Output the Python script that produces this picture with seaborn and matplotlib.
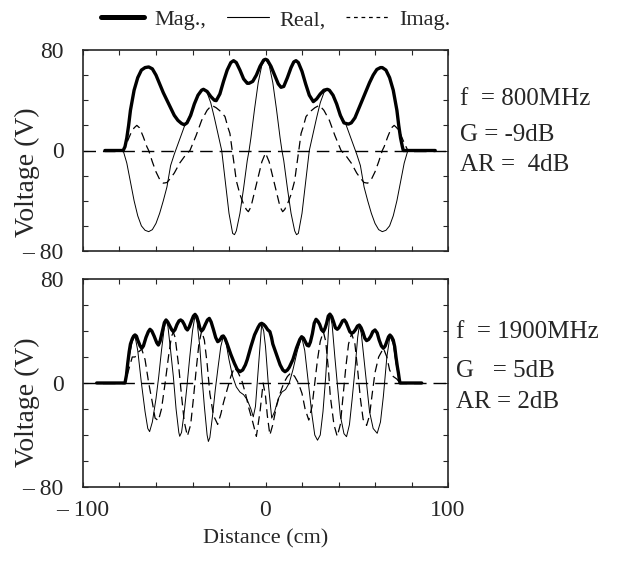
import numpy as np
import pandas as pd
import matplotlib
matplotlib.use("Agg")
import matplotlib.pyplot as plt
from matplotlib.lines import Line2D
import seaborn as sns

# ---------------- 800 MHz panel ----------------
top_mag_x = [-88, -78, -77, -76, -75, -74, -72, -70, -68, -66, -64, -62, -60, -58, -56, -54,
             -52, -50, -48, -46, -44.5, -43, -41, -39, -37, -35, -34, -32, -30, -28, -27, -25,
             -23, -21, -19, -17.5, -16, -14, -12, -10, -9, -7, -5, -3, -1, 0,
             1, 3, 5, 7, 8.5, 10, 12, 14, 15.5, 16.7, 18, 20, 22, 24, 26.2, 28, 30, 32, 33.9,
             35, 37, 39, 41, 43, 45.4, 47, 49, 51, 53, 55, 57, 59, 61, 63, 64, 66, 68, 70,
             72, 73, 74, 75, 75.5, 93]
top_mag = [0, 0, 3, 10, 20, 32, 48, 58, 64, 66, 66.5, 65, 60, 53, 46, 40,
           34, 28, 24, 21.5, 20.5, 22, 28, 37, 44, 48, 48.7, 47, 43, 40, 39.7, 45,
           55, 64, 70, 71.5, 70, 64, 57, 53.5, 53.5, 55, 60, 67, 72, 72.6,
           72, 67, 60, 53, 50.3, 51, 58, 66, 70.5, 71.5, 70, 63, 53, 44, 38.9, 41, 45, 48, 48.7,
           48, 44, 37, 28, 22, 21, 22, 26, 33, 40, 47, 54, 60, 64.5, 66, 66, 64, 58, 48,
           32, 20, 10, 3, 0, 0]

top_real_x = [-80, -78, -76, -74, -72, -70, -68, -66, -64, -62, -60, -58, -56, -54, -52, -50,
              -48, -46, -44, -42, -40, -38, -36, -34, -32, -30, -28, -26, -24, -22, -20, -18,
              -17, -16, -14, -12, -10, -9, -8, -6, -4, -2, 0,
              2, 4, 6, 8, 9, 10, 12, 14, 16, 17, 18, 20, 22, 24, 26, 28, 30, 32, 34, 36, 38,
              40, 42, 44, 46, 48, 50, 52, 54, 56, 58, 60, 62, 64, 66, 68, 70, 72, 74, 76, 78, 80]
top_real = [0, 0, -10, -25, -40, -52, -60, -63.5, -64.6, -63, -58, -50, -40, -29, -12, -3,
            5, 13, 21, 26, 33, 40, 46, 48.7, 46, 38, 26, 13, 0, -25, -50, -66,
            -67, -64, -50, -30, -8, 0, 10, 33, 54, 68, 72.6,
            68, 54, 33, 10, 0, -8, -30, -50, -64, -67, -66, -50, -25, 0, 13, 26, 38, 46, 48.7, 46, 40,
            33, 26, 21, 13, 5, -3, -12, -29, -40, -50, -58, -63, -64.6, -63.5, -60, -52, -40, -25, -10, 0, 0]

top_imag_x = [-80, -78, -76, -74, -72, -70.5, -69, -67, -65, -64, -62, -60, -58, -56, -54, -52,
              -50, -47, -44, -41.4, -38, -35, -32, -29.5, -27, -24.5, -22.2, -20.5, -19.5, -18,
              -17, -16, -14, -12.2, -10.5, -9.4, -8, -6, -4, -2, 0,
              2, 4, 6, 8, 9.4, 10.5, 12.2, 14, 16, 17, 18, 19.5, 20.5, 22.2, 24.5, 27, 29.5, 32,
              35, 38, 41.4, 44, 47, 50, 52, 54, 56, 58, 60, 62, 64, 65, 67, 69, 70.5, 72, 74, 76,
              78, 80]
top_imag = [0, 0, 6, 13, 18, 20, 18, 11, 3, 0, -9, -17, -23, -26, -25.5, -22,
            -18, -10, -4, 0, 12, 24, 32, 36, 34, 31, 27, 18, 13.6, -2.5,
            -13, -24, -35, -42, -47, -48.7, -45, -33, -21, -9, -2,
            -9, -21, -33, -45, -48.7, -47, -42, -35, -24, -13, -2.5, 13.6, 18, 27, 31, 34, 36, 32,
            24, 12, 0, -4, -10, -18, -22, -25.5, -26, -23, -17, -9, 0, 3, 11, 18, 20, 18, 13, 6,
            0, 0]

# ---------------- 1900 MHz panel ----------------
bot_mag_x = [-92.5, -77, -76.2, -75.5, -74.7, -74, -73, -72.3, -71.5, -70.7, -70, -68.7, -67.8,
             -66.9, -65.5, -64.2, -63.3, -62.3, -61, -59.6, -58.7, -57.8, -56.5, -55.4, -54.5,
             -53.6, -52.5, -51.4, -50.5, -49.6, -48.5, -47.4, -46.5, -45.5, -44.5, -43.6, -42.8,
             -41.8, -40.5, -39.5, -38.6, -37.7, -36.8, -35.9, -35, -34.1, -33, -31.8, -30.8,
             -29.8, -28.5, -27.3, -26.2, -25.4, -24.6, -23.9, -23.1, -22.1, -21, -19, -17,
             -15.5, -14, -12.5, -11, -10, -8, -6, -4, -3, -2.1, -1, 0, 1.2, 2.4, 3.3, 4, 6, 8,
             9.5, 10.7, 12, 13, 15, 17, 18.8, 19.8, 20.8, 21.7, 22.8, 23.7, 24.6, 25.7, 26.7,
             27.7, 28.7, 29.7, 30.7, 31.7, 32.6, 33.5, 34.4, 35.3, 36.3, 37.3, 38.3, 39.3, 40.2,
             41.2, 42.2, 43.2, 44.2, 45.2, 46.2, 47.2, 48.2, 49.3, 50.4, 51.4, 52.4, 53.4, 54.4,
             55.4, 56.5, 57.7, 58.8, 60, 61.2, 62.3, 63.5, 64.6, 65.6, 66.5, 67.4, 68.2, 69.1,
             70, 70.8, 71.5, 72.2, 72.8, 73.3, 73.7, 85.6]
bot_mag = [0, 0, 6, 15, 24, 30, 34, 36, 37, 36, 33, 28.5, 26.7,
           28.5, 35, 39.5, 41.3, 40, 36, 31, 29.2, 32, 40, 46.5, 48.5,
           47, 44, 41, 39.5, 41, 45, 47.8, 48.5, 47.5, 45, 42, 40.8,
           43, 48, 51.5, 52.8, 51, 47, 42, 40, 41.5, 45, 48.5, 49.7,
           47, 41, 35, 31.8, 32.5, 34, 35.8, 36.2, 34, 30, 22, 15,
           10.5, 8.7, 10, 14, 18, 28, 37, 43, 45.3, 45.9, 45, 43.5, 41, 39.5, 35, 30, 22, 14,
           10, 8.7, 10, 12, 18, 27, 33.5, 35.6, 34.5, 32, 29, 28.5, 31.5, 38, 46,
           49, 47.5, 45, 41, 39.5, 42, 46, 51.5, 53, 51, 47, 42.5, 41.3, 42.5,
           45, 47.8, 48.5, 46.5, 43, 39.5, 38.2, 39, 41, 43.8, 44.6, 42.5, 39, 34.5,
           32.6, 33.5, 36, 39.5, 40.8, 38.5, 33, 28.5, 26.7, 28.5, 32, 35.5, 36.9, 35.5,
           33, 28, 20, 13, 8, 3, 0, 0]

bot_real_x = [-80, -77, -75, -73, -71.5, -70, -68, -66, -64.5, -63.5, -62, -60, -58.5, -57,
              -55.5, -54.5, -53.5, -52, -50.5, -49, -47.5, -47, -46, -44.5, -43, -41.5, -40,
              -38.6, -37.5, -36, -35, -33.5, -32, -31.3, -30.5, -29, -27.5, -26, -24.5, -23.1,
              -21.5, -20, -18, -16, -14, -12, -10, -8, -6.7, -5.5, -4, -2.1, -1, 0, 1.5, 3.4,
              5, 7, 9, 11, 13, 15, 17.5, 19.8, 21.5, 23.5, 25.5, 27, 28.5, 30, 31.5, 33, 34.5,
              35.3, 36.5, 38, 39.5, 41, 43, 44.4, 46, 47.5, 49, 50.5, 51.4, 52.5, 54, 55.5, 57,
              59, 61.2, 63, 64.6, 66.5, 68.2, 70, 71.5, 73.7, 80]
bot_real = [0, 0, 18, 32, 36, 25, 0, -22, -35, -37.4, -30, -12, 5, 25,
            42, 48, 44, 25, 5, -20, -38, -41, -38, -22, -2, 20, 40,
            52, 47, 28, 8, -18, -40, -45, -42, -25, -5, 12, 28, 36,
            30, 18, 5, -3, -7, -9, -13, -20, -26, -18, 10, 45, 40, 28, 0, -27,
            -22, -12, -7, -5, 0, 10, 25, 35.6, 25, 0, -25, -40, -44, -40, -22, 5, 40,
            53, 45, 20, -3, -25, -39, -41.3, -32, -12, 10, 35, 44, 38, 18, -2, -22,
            -35, -38.7, -30, -10, 20, 36, 30, 15, 0, 0]

bot_imag_x = [-80, -77, -75, -73, -71.5, -69.5, -67.8, -66, -64, -62, -60.5, -58.7, -57, -55,
              -53, -51.5, -50.5, -49.5, -47.5, -46, -44.5, -42.8, -41, -39.5, -38, -36.5, -35,
              -33.5, -32, -30.5, -28.5, -26.2, -24.5, -23, -21, -19, -17, -15, -13, -11, -9,
              -7, -5, -3, -1.3, 0, 1, 2.4, 4, 6, 8, 10, 12, 14, 16, 18, 20, 21.7, 23.7, 25.5,
              27, 28.5, 30, 31.7, 33, 34.5, 35.5, 37.5, 39.3, 41, 42.5, 44, 45.5, 47.2, 49,
              50.5, 52, 53.5, 55.4, 57, 58.5, 60, 62, 64.6, 66.5, 68, 70, 72, 73.7, 80]
bot_imag = [0, 0, 10, 20, 20, 24, 26, 18, 0, -15, -27, -29, -20, 0,
            22, 36, 39, 35, 12, -10, -30, -40.8, -32, -12, 10, 30, 40,
            33, 15, -8, -25, -31.8, -24, -15, -5, 5, 12, 8, 2, -8, -20,
            -30, -41, -22, 0, -10, -25, -40, -32, -18, -8, 0, 5, 8, 5, 0, -8, -20, -28.5, -18,
            0, 18, 32, 39.5, 32, 10, -10, -32, -41, -32, -10, 12, 30, 38, 30,
            10, -12, -28, -32.6, -25, -8, 8, 20, 26.7, 20, 10, 5, 3, 0, 0]

panels = [
    dict(mag=(top_mag_x, top_mag), real=(top_real_x, top_real), imag=(top_imag_x, top_imag),
         text=["f  = 800MHz", "G = -9dB", "AR =  4dB"]),
    dict(mag=(bot_mag_x, bot_mag), real=(bot_real_x, bot_real), imag=(bot_imag_x, bot_imag),
         text=["f  = 1900MHz", "G   = 5dB", "AR = 2dB"]),
]

sns.set_style("ticks")
plt.rcParams["font.family"] = ["Liberation Serif", "DejaVu Serif"]

W, H = 620, 570
fig = plt.figure(figsize=(W / 100, H / 100), dpi=100)

# axes boxes in pixels: (left, top, right, bottom)
boxes = [(83, 50, 448, 251), (83, 279, 448, 487)]
text_rows = [(460, [105, 141, 171]), (456, [338, 377, 408])]
ylabel_centre = [172, 402]

for i, (p, (l, t, r, b)) in enumerate(zip(panels, boxes)):
    ax = fig.add_axes([l / W, 1 - b / H, (r - l) / W, (b - t) / H])
    ax.axhline(0, color="black", lw=1.0, ls=(0, (9, 5)), zorder=1)
    sns.lineplot(x=p["real"][0], y=p["real"][1], ax=ax, color="black", lw=0.7,
                 estimator=None, sort=False, zorder=2)
    sns.lineplot(x=p["imag"][0], y=p["imag"][1], ax=ax, color="black", lw=0.9,
                 linestyle=(0, (7, 4)), estimator=None, sort=False, zorder=2)
    sns.lineplot(x=p["mag"][0], y=p["mag"][1], ax=ax, color="black", lw=2.4,
                 estimator=None, sort=False, zorder=3)
    ax.set_xlim(-100, 100)
    ax.set_ylim(-80, 80)
    ax.set_xticks(np.arange(-100, 101, 20))
    ax.set_yticks(np.arange(-80, 81, 20))
    ax.set_yticklabels(["\u2013 80" if v == -80 else ("0" if v == 0 else ("80" if v == 80 else ""))
                        for v in np.arange(-80, 81, 20)], fontsize=17)
    if i == 1:
        ax.set_xticklabels(["\u2013 100" if v == -100 else ("0" if v == 0 else ("100" if v == 100 else ""))
                            for v in np.arange(-100, 101, 20)], fontsize=17)
        ax.set_xlabel("Distance (cm)", fontsize=16, labelpad=6)
    else:
        ax.set_xticklabels([])
    ax.tick_params(direction="in", length=3.5, width=0.8, top=True, right=True, pad=14)
    ax.tick_params(axis="x", pad=9)
    ax.set_ylabel("")
    for s in ax.spines.values():
        s.set_linewidth(1.2)
    fig.text(27 / W, 1 - ylabel_centre[i] / H, "Voltage (V)", rotation=90,
             fontsize=20, ha="center", va="center")
    x0, ys = text_rows[i]
    for txt, yy in zip(p["text"], ys):
        fig.text(x0 / W, 1 - yy / H, txt, fontsize=18, ha="left", va="baseline")

handles = [Line2D([], [], color="black", lw=3.6),
           Line2D([], [], color="black", lw=0.8),
           Line2D([], [], color="black", lw=0.9, ls=(0, (3, 3)))]
fig.legend(handles, ["Mag.,", "Real,", "Imag."], loc="center", ncol=3,
           bbox_to_anchor=(276 / W, 1 - 20 / H), frameon=False, fontsize=16,
           handlelength=1.9, handletextpad=0.5, columnspacing=0.9)

fig.savefig("out.png", dpi=100)
